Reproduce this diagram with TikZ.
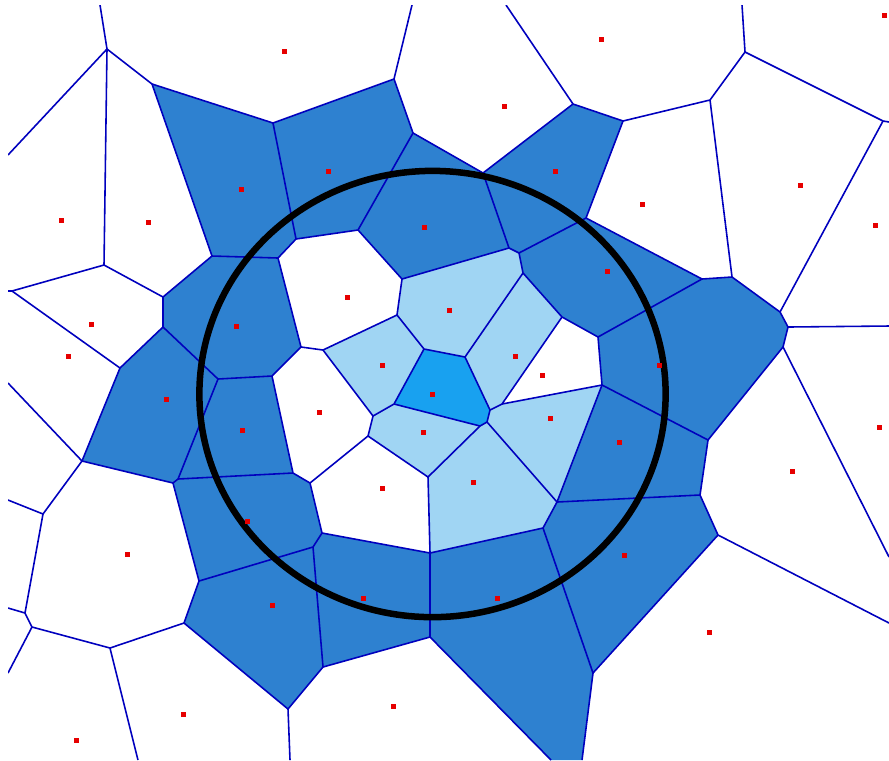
\documentclass[tikz,border=0pt]{standalone}
\usepackage{tikz}

\definecolor{celldark}{RGB}{46,129,208}
\definecolor{celllight}{RGB}{160,213,243}
\definecolor{cellmid}{RGB}{24,161,240}
\definecolor{edgeblue}{RGB}{0,0,190}
\definecolor{sitered}{RGB}{230,0,0}

\begin{document}
\begin{tikzpicture}[x=0.01cm,y=-0.01cm,
    edge/.style={draw=edgeblue,line width=0.45pt,line join=round},
    site/.style={rectangle,fill=sitered,minimum size=0.05cm,inner sep=0pt}]
\useasboundingbox (0,0) rectangle (889,760);
\fill[white] (0,0) rectangle (889,760);

\coordinate (a1) at (107,49);
\coordinate (a2) at (152,84);
\coordinate (a3) at (273,123);
\coordinate (a4) at (394,79);
\coordinate (a5) at (413,133);
\coordinate (a6) at (296,239);
\coordinate (a7) at (278,258);
\coordinate (a8) at (212,256);
\coordinate (a9) at (358,230);
\coordinate (a10) at (483,173);
\coordinate (a11) at (573,104);
\coordinate (a12) at (623,121);
\coordinate (a13) at (710,100);
\coordinate (a14) at (745,52);
\coordinate (a15) at (883,121);
\coordinate (a16) at (586,218);
\coordinate (a17) at (509,248);
\coordinate (a18) at (519,253);
\coordinate (a19) at (523,273);
\coordinate (a20) at (402,279);
\coordinate (a21) at (397,315);
\coordinate (a22) at (424,349);
\coordinate (a23) at (465,357);
\coordinate (a24) at (562,317);
\coordinate (a25) at (598,337);
\coordinate (a26) at (702,279);
\coordinate (a27) at (732,277);
\coordinate (a28) at (780,312);
\coordinate (a29) at (788,327);
\coordinate (a30) at (783,347);
\coordinate (a31) at (708,440);
\coordinate (a32) at (602,385);
\coordinate (a33) at (502,404);
\coordinate (a34) at (490,410);
\coordinate (a35) at (487,422);
\coordinate (a36) at (480,426);
\coordinate (a37) at (394,404);
\coordinate (a38) at (373,416);
\coordinate (a39) at (323,350);
\coordinate (a40) at (301,347);
\coordinate (a41) at (272,376);
\coordinate (a42) at (218,379);
\coordinate (a43) at (163,327);
\coordinate (a44) at (163,297);
\coordinate (a45) at (104,265);
\coordinate (a46) at (12,291);
\coordinate (a47) at (120,368);
\coordinate (a48) at (82,461);
\coordinate (a49) at (178,479);
\coordinate (a50) at (173,483);
\coordinate (a51) at (293,473);
\coordinate (a52) at (310,483);
\coordinate (a53) at (368,436);
\coordinate (a54) at (428,477);
\coordinate (a55) at (557,502);
\coordinate (a56) at (543,528);
\coordinate (a57) at (430,553);
\coordinate (a58) at (322,533);
\coordinate (a59) at (313,547);
\coordinate (a60) at (199,581);
\coordinate (a61) at (184,623);
\coordinate (a62) at (110,648);
\coordinate (a63) at (32,627);
\coordinate (a64) at (25,613);
\coordinate (a65) at (43,514);
\coordinate (a66) at (288,709);
\coordinate (a67) at (323,667);
\coordinate (a68) at (430,637);
\coordinate (a69) at (593,673);
\coordinate (a70) at (718,535);
\coordinate (a71) at (700,495);

\coordinate (b1) at (100,5);
\coordinate (b2) at (412,5);
\coordinate (b3) at (506,5);
\coordinate (b4) at (742,5);
\coordinate (b5) at (889,122);
\coordinate (b6) at (889,326);
\coordinate (b7) at (889,557);
\coordinate (b8) at (889,623);
\coordinate (b9) at (582,760);
\coordinate (b10) at (551,760);
\coordinate (b11) at (290,760);
\coordinate (b12) at (138,760);
\coordinate (b13) at (8,673);
\coordinate (b14) at (8,608);
\coordinate (b15) at (8,500);
\coordinate (b16) at (8,383);
\coordinate (b17) at (8,291);
\coordinate (b18) at (8,155);

\begin{scope}
\clip (8,5) rectangle (889,760);
\fill[celldark] (a2) -- (a3) -- (a6) -- (a7) -- (a8) -- cycle;
\fill[celldark] (a3) -- (a4) -- (a5) -- (a9) -- (a6) -- cycle;
\fill[celldark] (a9) -- (a5) -- (a10) -- (a17) -- (a20) -- cycle;
\fill[celldark] (a10) -- (a11) -- (a12) -- (a16) -- (a18) -- (a17) -- cycle;
\fill[celldark] (a16) -- (a26) -- (a25) -- (a24) -- (a19) -- (a18) -- cycle;
\fill[celldark] (a44) -- (a8) -- (a7) -- (a40) -- (a41) -- (a42) -- (a43) -- cycle;
\fill[celldark] (a25) -- (a26) -- (a27) -- (a28) -- (a29) -- (a30) -- (a31) -- (a32) -- cycle;
\fill[celldark] (a43) -- (a42) -- (a49) -- (a50) -- (a48) -- (a47) -- cycle;
\fill[celldark] (a42) -- (a41) -- (a51) -- (a49) -- cycle;
\fill[celldark] (a32) -- (a31) -- (a71) -- (a55) -- cycle;
\fill[celldark] (a50) -- (a49) -- (a51) -- (a52) -- (a58) -- (a59) -- (a60) -- cycle;
\fill[celldark] (a55) -- (a71) -- (a70) -- (a69) -- (a56) -- cycle;
\fill[celldark] (a58) -- (a57) -- (a68) -- (a67) -- (a59) -- cycle;
\fill[celldark] (a57) -- (a56) -- (a69) -- (b9) -- (b10) -- (a68) -- cycle;
\fill[celldark] (a60) -- (a59) -- (a67) -- (a66) -- (a61) -- cycle;

\fill[celllight] (a20) -- (a17) -- (a18) -- (a19) -- (a23) -- (a22) -- (a21) -- cycle;
\fill[celllight] (a19) -- (a24) -- (a33) -- (a34) -- (a23) -- cycle;
\fill[celllight] (a39) -- (a21) -- (a22) -- (a37) -- (a38) -- cycle;
\fill[celllight] (a34) -- (a33) -- (a32) -- (a55) -- (a35) -- cycle;
\fill[celllight] (a37) -- (a36) -- (a54) -- (a53) -- (a38) -- cycle;
\fill[celllight] (a36) -- (a35) -- (a55) -- (a56) -- (a57) -- (a54) -- cycle;

\fill[cellmid] (a22) -- (a23) -- (a34) -- (a35) -- (a36) -- (a37) -- cycle;

\draw[edge] (b18) -- (a1) -- (b1);
\draw[edge] (a1) -- (a2) -- (a3) -- (a4) -- (b2);
\draw[edge] (a1) -- (a45) -- (a46) -- (b17);
\draw[edge] (a2) -- (a8) -- (a44) -- (a45);
\draw[edge] (a3) -- (a6) -- (a9) -- (a5) -- (a4);
\draw[edge] (a6) -- (a7) -- (a8);
\draw[edge] (a7) -- (a40) -- (a41) -- (a42) -- (a43) -- (a44);
\draw[edge] (a5) -- (a10) -- (a11) -- (b3);
\draw[edge] (a11) -- (a12) -- (a13) -- (a14) -- (b4);
\draw[edge] (a14) -- (a15) -- (b5);
\draw[edge] (a15) -- (a28) -- (a29) -- (b6);
\draw[edge] (a13) -- (a27) -- (a28);
\draw[edge] (a12) -- (a16) -- (a26) -- (a27);
\draw[edge] (a16) -- (a18) -- (a17) -- (a10);
\draw[edge] (a17) -- (a20) -- (a9);
\draw[edge] (a18) -- (a19) -- (a24) -- (a25) -- (a26);
\draw[edge] (a19) -- (a23) -- (a22) -- (a21) -- (a20);
\draw[edge] (a21) -- (a39) -- (a40);
\draw[edge] (a22) -- (a37) -- (a38) -- (a39);
\draw[edge] (a23) -- (a34) -- (a35) -- (a36) -- (a37);
\draw[edge] (a24) -- (a33) -- (a34);
\draw[edge] (a33) -- (a32) -- (a25);
\draw[edge] (a32) -- (a31) -- (a30) -- (a29);
\draw[edge] (a30) -- (b7);
\draw[edge] (a31) -- (a71) -- (a70) -- (b8);
\draw[edge] (a32) -- (a55) -- (a71);
\draw[edge] (a35) -- (a55) -- (a56) -- (a69) -- (a70);
\draw[edge] (a69) -- (b9);
\draw[edge] (a36) -- (a54) -- (a53) -- (a38);
\draw[edge] (a54) -- (a57) -- (a56);
\draw[edge] (a57) -- (a68) -- (b10);
\draw[edge] (a57) -- (a58) -- (a52) -- (a53);
\draw[edge] (a52) -- (a51) -- (a41);
\draw[edge] (a51) -- (a49) -- (a42);
\draw[edge] (a49) -- (a50) -- (a48) -- (a47) -- (a43);
\draw[edge] (a47) -- (a46);
\draw[edge] (a48) -- (b16);
\draw[edge] (a48) -- (a65) -- (b15);
\draw[edge] (a65) -- (a64) -- (b14);
\draw[edge] (a64) -- (a63) -- (b13);
\draw[edge] (a63) -- (a62) -- (b12);
\draw[edge] (a62) -- (a61) -- (a60) -- (a50);
\draw[edge] (a60) -- (a59) -- (a58);
\draw[edge] (a59) -- (a67) -- (a68);
\draw[edge] (a67) -- (a66) -- (a61);
\draw[edge] (a66) -- (b11);
\end{scope}

\draw[line width=0.065cm] (432.5,394) ellipse [x radius=2.33cm, y radius=2.23cm];

\node[site] (s1) at (284,51) {};
\node[site] (s2) at (601,39) {};
\node[site] (s3) at (884,15) {};
\node[site] (s4) at (504,106) {};
\node[site] (s5) at (241,189) {};
\node[site] (s6) at (328,171) {};
\node[site] (s7) at (555,171) {};
\node[site] (s8) at (800,185) {};
\node[site] (s9) at (642,204) {};
\node[site] (s10) at (61,220) {};
\node[site] (s11) at (148,222) {};
\node[site] (s12) at (424,227) {};
\node[site] (s13) at (875,225) {};
\node[site] (s14) at (607,271) {};
\node[site] (s15) at (347,297) {};
\node[site] (s16) at (449,310) {};
\node[site] (s17) at (91,324) {};
\node[site] (s18) at (236,326) {};
\node[site] (s19) at (68,356) {};
\node[site] (s20) at (515,356) {};
\node[site] (s21) at (382,365) {};
\node[site] (s22) at (659,365) {};
\node[site] (s23) at (542,375) {};
\node[site] (s24) at (432,394) {};
\node[site] (s25) at (166,399) {};
\node[site] (s26) at (319,412) {};
\node[site] (s27) at (550,418) {};
\node[site] (s28) at (242,430) {};
\node[site] (s29) at (423,432) {};
\node[site] (s30) at (879,427) {};
\node[site] (s31) at (619,442) {};
\node[site] (s32) at (792,471) {};
\node[site] (s33) at (473,482) {};
\node[site] (s34) at (382,488) {};
\node[site] (s35) at (247,521) {};
\node[site] (s36) at (127,554) {};
\node[site] (s37) at (624,555) {};
\node[site] (s38) at (363,598) {};
\node[site] (s39) at (497,598) {};
\node[site] (s40) at (272,605) {};
\node[site] (s41) at (709,632) {};
\node[site] (s42) at (393,706) {};
\node[site] (s43) at (183,714) {};
\node[site] (s44) at (76,740) {};
\end{tikzpicture}
\end{document}
